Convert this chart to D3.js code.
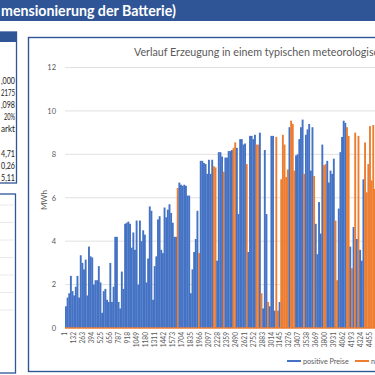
<!DOCTYPE html>
<html>
<head>
<meta charset="utf-8">
<script src="https://cdnjs.cloudflare.com/ajax/libs/d3/7.8.5/d3.min.js"></script>
<style>
body { margin: 0; background: #fff; overflow: hidden; }
svg { display: block; font-family: Lato, "Open Sans", sans-serif; }
</style>
</head>
<body>
<script>

// Daten: Tagesmaximum der Erzeugung (MWh), ein Wert je Tag (24 Stunden)
var tagesMax = [
    1.0, 1.4, 1.6, 2.4, 1.7, 1.5, 1.9, 2.4, 1.4, 3.35,
    3.0, 2.7, 3.15, 1.5, 3.75, 3.3, 3.25, 2.0, 2.2, 2.2,
    2.85, 2.1, 0.7, 1.7, 1.8, 1.3, 1.2, 3.0, 1.2, 1.9,
    4.2, 4.2, 1.2, 0.9, 2.6, 1.8, 4.8, 4.85, 4.9, 4.8,
    3.7, 4.4, 3.6, 4.95, 2.0, 4.95, 4.0, 4.5, 4.3, 2.1,
    3.2, 5.6, 5.4,
    1.3, 2.85, 3.3, 5.0, 5.15, 3.6, 3.45, 5.55, 5.1, 5.45,
    5.7, 5.3, 4.85, 4.2, 4.2, 6.45, 6.7, 6.6, 6.55, 6.6,
    6.55, 6.1, 6.1, 1.6, 2.7, 3.5, 4.1, 5.4, 3.45, 7.7,
    7.7, 7.6, 7.55, 7.1, 7.75, 7.1, 7.75, 7.45, 7.4, 3.1,
    8.1, 8.1, 7.9, 7.2, 7.85, 7.85, 8.15, 8.15, 8.2, 8.3,
    8.55, 8.3, 5.25, 8.7, 8.7, 8.45, 8.5, 7.55, 3.5, 8.85,
    8.85, 8.7, 8.9, 8.45, 8.45, 9.0, 1.6, 0.9, 8.2, 5.25,
    1.2, 1.0, 8.85, 8.85, 0.8, 8.8, 0.8, 1.2, 6.85, 8.9,
    8.45, 6.95, 7.3, 9.25, 9.55, 9.4, 7.25, 7.95,
    8.0, 8.7, 9.25, 9.6, 7.1, 8.9, 9.15, 9.4, 7.25, 9.25,
    7.0, 4.8, 3.4, 5.8, 4.35, 8.45, 7.5, 7.55, 7.7, 6.7,
    7.25, 7.1, 7.8, 4.95, 2.2, 5.5, 8.1, 8.8, 9.55, 9.45,
    9.25, 8.85, 3.75, 2.75, 4.65, 9.0, 4.1, 8.85, 3.6, 3.1,
    6.85, 8.55, 6.25, 7.55, 9.3, 6.8, 9.35, 6.4
];

// 1 = Spitze faellt in Stunden mit negativen Preisen
var negativ = [
    0, 0, 0, 0, 0, 0, 0, 0, 0, 0,
    0, 0, 0, 0, 0, 0, 0, 0, 0, 0,
    0, 0, 0, 0, 0, 0, 0, 0, 0, 0,
    0, 0, 0, 0, 0, 0, 0, 0, 0, 0,
    0, 0, 0, 0, 0, 0, 0, 0, 0, 0,
    0, 0, 0,
    0, 0, 0, 0, 0, 0, 0, 0, 0, 0,
    0, 0, 0, 0, 0, 1, 0, 0, 0, 0,
    0, 0, 0, 0, 0, 0, 0, 0, 1, 0,
    0, 0, 0, 0, 0, 0, 0, 1, 1, 0,
    0, 0, 0, 1, 0, 0, 0, 0, 0, 1,
    1, 0, 0, 0, 0, 0, 0, 1, 0, 0,
    0, 0, 0, 1, 1, 0, 1, 0, 0, 0,
    1, 0, 0, 0, 0, 1, 1, 0, 1, 1,
    1, 1, 1, 0, 1, 1, 1, 0,
    0, 0, 0, 0, 1, 0, 0, 0, 0, 0,
    1, 0, 0, 0, 0, 0, 1, 1, 0, 0,
    0, 0, 0, 1, 1, 0, 0, 0, 0, 0,
    1, 1, 0, 1, 0, 1, 0, 1, 0, 0,
    0, 1, 1, 1, 1, 1, 1, 1
];

var yTicks = [0, 2, 4, 6, 8, 10, 12];

var xTickLabels = [1, 132, 263, 394, 525, 656, 787, 918, 1049, 1180, 1311, 1442,
    1573, 1704, 1835, 1966, 2097, 2228, 2359, 2490, 2621, 2752, 2883, 3014,
    3145, 3276, 3407, 3538, 3669, 3800, 3931, 4062, 4193, 4324, 4455];

var serien = ["positive Preise", "negative Preise"];
var farben = ["#4472C4", "#ED7D31"];

// Werte im linken Kasten (links abgeschnitten)
var kennzahlen = [",000", "2175", ",098", "20%", "arkt", "", "4,71", "0,26", "5,11"];

var blau = "#2F5597";

var svg = d3.select("body").append("svg").attr("width", 375).attr("height", 375);

// Step 1: Kopfzeile
svg.append("rect").attr("x", 0).attr("y", 0).attr("width", 375).attr("height", 21).attr("fill", blau);
svg.append("text").attr("x", 1).attr("y", 15.5)
    .attr("fill", "white").attr("font-weight", "bold").attr("font-size", 14.2)
    .text("mensionierung der Batterie)");

// Step 2: linke Kaesten
svg.append("rect").attr("x", -2).attr("y", 32).attr("width", 18.5).attr("height", 151)
    .attr("fill", "none").attr("stroke", blau).attr("stroke-width", 1.3);
svg.append("rect").attr("x", -2).attr("y", 32).attr("width", 18.5).attr("height", 10).attr("fill", blau);

// schmale Schrift wie im Original: Textbreite auf ca. 3,7 px je Zeichen begrenzen
svg.selectAll("text.kz").data(kennzahlen).enter().append("text")
    .attr("class", "kz")
    .attr("x", 15)
    .attr("y", function (d, i) { return 84 + i * 12.1 })
    .attr("text-anchor", "end")
    .attr("font-size", 9.6)
    .attr("fill", "#222")
    .attr("textLength", function (d) { return d.length ? Math.min(14, d.length * 3.7) : null })
    .attr("lengthAdjust", "spacingAndGlyphs")
    .text(function (d) { return d });

svg.append("rect").attr("x", -2).attr("y", 194).attr("width", 17.5).attr("height", 179)
    .attr("fill", "none").attr("stroke", blau).attr("stroke-width", 1.3);
for (var g = 0; g < 7; g++) {
    svg.append("line").attr("x1", 0).attr("x2", 14).attr("y1", 205 + g * 17.5).attr("y2", 205 + g * 17.5)
        .attr("stroke", "#E4E4E4").attr("stroke-width", 0.8);
}

// Step 3: Diagrammrahmen
svg.append("rect").attr("x", 28.5).attr("y", 37.5).attr("width", 400).attr("height", 334)
    .attr("fill", "white").attr("stroke", blau).attr("stroke-width", 1.4);

svg.append("text").attr("x", 134).attr("y", 56)
    .attr("font-size", 10.7).attr("fill", "#595959")
    .text("Verlauf Erzeugung in einem typischen meteorologischen Jahr");

// Step 4: Skalen
var x = d3.scaleLinear().domain([1, 4455]).range([65, 370]);
var y = d3.scaleLinear().domain([0, 12]).range([328, 67.5]);

// Gitterlinien
svg.selectAll("line.grid").data(yTicks.slice(1)).enter().append("line")
    .attr("class", "grid")
    .attr("x1", 65).attr("x2", 380)
    .attr("y1", function (d) { return y(d) }).attr("y2", function (d) { return y(d) })
    .attr("stroke", "#D9D9D9").attr("stroke-width", 0.8);

// Y-Achse
var yAxis = svg.append("g").attr("transform", "translate(65,0)")
    .call(d3.axisLeft(y).tickValues(yTicks).tickSize(0).tickPadding(9));
yAxis.select(".domain").remove();
yAxis.selectAll("text").attr("font-size", 7.5).attr("fill", "#595959").attr("font-family", "Lato, sans-serif");

svg.append("text").attr("transform", "translate(47,200) rotate(-90)")
    .attr("text-anchor", "middle").attr("font-size", 8).attr("fill", "#595959")
    .text("MWh");

// Step 5: Balken je Tag
var tage = tagesMax.map(function (v, i) {
    return { start: i * 24 + 1, ende: (i + 1) * 24 + 1, wert: v, neg: negativ[i] };
});

svg.selectAll("rect.tag").data(tage).enter().append("rect")
    .attr("class", "tag")
    .attr("x", function (d) { return x(d.start) })
    .attr("width", function (d) { return x(d.ende) - x(d.start) + 0.25 })
    .attr("y", function (d) { return y(d.wert) })
    .attr("height", function (d) { return y(0) - y(d.wert) })
    .attr("fill", function (d) { return d.neg ? farben[1] : farben[0] });

// Nullwerte der negativen Serie liegen auf der Achse
svg.append("line").attr("x1", 65).attr("x2", 380).attr("y1", y(0)).attr("y2", y(0))
    .attr("stroke", farben[1]).attr("stroke-width", 1.6);

// Step 6: X-Achse (gedreht)
svg.selectAll("text.xl").data(xTickLabels).enter().append("text")
    .attr("class", "xl")
    .attr("transform", function (d) { return "translate(" + (x(d) + 2.2) + ",332) rotate(-90)" })
    .attr("text-anchor", "end")
    .attr("font-size", 6.6)
    .attr("fill", "#595959")
    .text(function (d) { return d });

// Step 7: Legende
var leg = svg.selectAll("g.leg").data(serien).enter().append("g")
    .attr("class", "leg")
    .attr("transform", function (d, i) { return "translate(" + (287 + i * 68) + ",361)" });
leg.append("line").attr("x1", 0).attr("x2", 14).attr("y1", 0).attr("y2", 0)
    .attr("stroke", function (d, i) { return farben[i] }).attr("stroke-width", 2);
leg.append("text").attr("x", 16).attr("y", 2.5)
    .attr("font-size", 7.2).attr("fill", "#595959")
    .text(function (d) { return d });

</script>
</body>
</html>
